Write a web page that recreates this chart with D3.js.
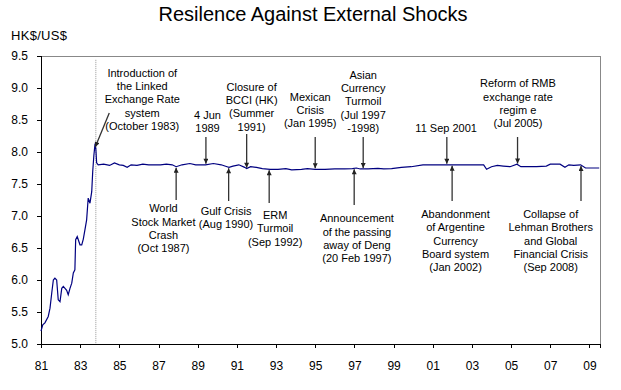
<!DOCTYPE html>
<html lang="en">
<head>
    <meta charset="UTF-8">
    <title>Resilence Against External Shocks</title>
    <script src="https://cdnjs.cloudflare.com/ajax/libs/d3/7.8.5/d3.min.js"></script>
    <style>
        body { margin: 0; background: #fff; }
        svg { font-family: Arial, "Liberation Sans", sans-serif; }
        .axis text { font-size: 12px; fill: #000; }
        .axis path, .axis line { stroke: #000; shape-rendering: crispEdges; }
        .note { font-size: 11px; fill: #000; text-anchor: middle; }
    </style>
</head>
<body>
<svg class="chart"></svg>
<script>
    // HK$ per US$ (decimal year -> rate)
    const years = [
        1981.00, 1981.09, 1981.20, 1981.37, 1981.46, 1981.55, 1981.63, 1981.71, 1981.80, 1981.88,
        1981.97, 1982.06, 1982.14, 1982.31, 1982.39, 1982.48, 1982.57, 1982.65, 1982.73, 1982.77,
        1982.85, 1982.99, 1983.08, 1983.16, 1983.24, 1983.33, 1983.41, 1983.50, 1983.59, 1983.64,
        1983.70, 1983.76, 1983.80, 1983.84, 1983.92,
        1984.2, 1984.5, 1984.75, 1985.0, 1985.2, 1985.4, 1985.6, 1985.9, 1986.2, 1986.5,
        1986.8, 1987.1, 1987.4, 1987.7, 1987.9, 1988.2, 1988.6, 1988.9, 1989.1, 1989.4,
        1989.8, 1990.2, 1990.5, 1990.6, 1990.8, 1991.1, 1991.4, 1991.5, 1991.7, 1992.0,
        1992.3, 1992.7, 1993.1, 1993.5, 1993.8, 1994.3, 1994.6, 1995.0, 1995.5, 1996.0,
        1996.5, 1996.9, 1997.1, 1997.3, 1997.7, 1998.2, 1998.5, 1998.9, 1999.4, 1999.9,
        2000.5, 2001.0, 2001.7, 2002.5, 2003.2, 2003.6, 2003.75, 2004.0, 2004.3, 2004.6,
        2004.95, 2005.3, 2005.5, 2005.8, 2006.3, 2006.8, 2007.0, 2007.5, 2007.75, 2007.95,
        2008.2, 2008.55, 2008.8, 2009.1, 2009.5
    ];
    const rates = [
        5.20, 5.30, 5.33, 5.43, 5.56, 5.80, 6.00, 6.03, 6.00, 5.69,
        5.66, 5.87, 5.90, 5.84, 5.77, 5.87, 5.95, 6.11, 6.16, 6.63,
        6.68, 6.55, 6.55, 6.64, 6.78, 6.94, 7.28, 7.20, 7.38, 7.69,
        7.95, 8.13, 8.05, 7.83, 7.80,
        7.81, 7.79, 7.83, 7.80, 7.79, 7.76, 7.80, 7.79, 7.81, 7.80,
        7.80, 7.80, 7.81, 7.80, 7.77, 7.80, 7.82, 7.80, 7.80, 7.80,
        7.82, 7.80, 7.77, 7.76, 7.78, 7.80, 7.76, 7.74, 7.77, 7.76,
        7.74, 7.73, 7.73, 7.74, 7.72, 7.73, 7.74, 7.73, 7.73, 7.735,
        7.735, 7.74, 7.75, 7.735, 7.735, 7.745, 7.735, 7.74, 7.76, 7.77,
        7.80, 7.80, 7.80, 7.80, 7.80, 7.80, 7.73, 7.77, 7.79, 7.78,
        7.77, 7.81, 7.77, 7.77, 7.77, 7.78, 7.81, 7.81, 7.76, 7.80,
        7.79, 7.80, 7.75, 7.75, 7.75
    ];

    const xTicks = [1981, 1983, 1985, 1987, 1989, 1991, 1993, 1995, 1997, 1999, 2001, 2003, 2005, 2007, 2009];
    const yTicks = [5.0, 5.5, 6.0, 6.5, 7.0, 7.5, 8.0, 8.5, 9.0, 9.5];

    // events: text lines, date on the line, above (down arrow) or below (up arrow)
    const eventLabels = [
        ["Introduction of", "the Linked", "Exchange Rate", "system", "(October 1983)"],
        ["4 Jun", "1989"],
        ["Closure of", "BCCI (HK)", "(Summer", "1991)"],
        ["Mexican", "Crisis", "(Jan 1995)"],
        ["Asian", "Currency", "Turmoil", "(Jul 1997", "-1998)"],
        ["11 Sep 2001"],
        ["Reform of RMB", "exchange rate", "regim e", "(Jul 2005)"],
        ["World", "Stock Market", "Crash", "(Oct 1987)"],
        ["Gulf Crisis", "(Aug 1990)"],
        ["ERM", "Turmoil", "(Sep 1992)"],
        ["Announcement", "of the passing", "away of Deng", "(20 Feb 1997)"],
        ["Abandonment", "of Argentine", "Currency", "Board system", "(Jan 2002)"],
        ["Collapse of", "Lehman Brothers", "and Global", "Financial Crisis", "(Sep 2008)"]
    ];
    const eventDates = [1983.77, 1989.42, 1991.5, 1995.0, 1997.45, 2001.72, 2005.33,
                        1987.9, 1990.58, 1992.65, 1996.99, 2001.99, 2008.57];
    const eventSide = ["up", "up", "up", "up", "up", "up", "up",
                       "down", "down", "down", "down", "down", "down"];

    // label placement: text centre offset from arrow, baseline of first line, arrow tail y
    const labelLayout = [
        {dx: 47, y0: 76.7, tail: null},
        {dx: 1.6, y0: 119, tail: 137},
        {dx: 5, y0: 90.7, tail: 134},
        {dx: -5, y0: 100.7, tail: 137},
        {dx: 0, y0: 78.7, tail: 137},
        {dx: -0.7, y0: 132.3, tail: 137},
        {dx: 0.4, y0: 87.3, tail: 137},
        {dx: -12.7, y0: 212.3, tail: 200},
        {dx: -2.6, y0: 215, tail: 201},
        {dx: 6, y0: 219, tail: 203},
        {dx: 2.7, y0: 222.3, tail: 205},
        {dx: 3.4, y0: 218, tail: 201},
        {dx: -30.3, y0: 218, tail: 201}
    ];
    const lineGap = 13.3;

    const W = 621, H = 390;
    const margin = {top: 56, right: 21, bottom: 46, left: 41};

    const x = d3.scaleLinear().domain([1981, 2009.54]).range([margin.left, W - margin.right]);
    const y = d3.scaleLinear().domain([5, 9.5]).range([H - margin.bottom, margin.top]);

    const svg = d3.select('.chart').attr('width', W).attr('height', H);

    svg.append('rect').attr('width', W).attr('height', H).attr('fill', '#fff');

    svg.append('defs').append('marker')
        .attr('id', 'head')
        .attr('viewBox', '0 0 10 10')
        .attr('refX', 10).attr('refY', 5)
        .attr('markerUnits', 'userSpaceOnUse')
        .attr('markerWidth', 6).attr('markerHeight', 5)
        .attr('orient', 'auto')
        .append('path').attr('d', 'M0,0 L10,5 L0,10 z').attr('fill', '#222');

    svg.append('text')
        .attr('x', 313).attr('y', 21)
        .attr('text-anchor', 'middle')
        .style('font-size', '20px')
        .text('Resilence Against External Shocks');

    svg.append('text')
        .attr('x', 11).attr('y', 40)
        .style('font-size', '13px')
        .style('letter-spacing', '0.3px')
        .text('HK$/US$');

    // plot frame (top and right in grey)
    svg.append('path')
        .attr('d', `M${x.range()[0]},${y(9.5)}H${x.range()[1]}V${y(5)}`)
        .attr('fill', 'none').attr('stroke', '#888').attr('shape-rendering', 'crispEdges');

    // dotted marker at the introduction of the link
    svg.append('line')
        .attr('x1', x(1983.8)).attr('x2', x(1983.8))
        .attr('y1', y(9.44)).attr('y2', y(5))
        .attr('stroke', '#999').attr('stroke-dasharray', '1,1');

    svg.append('g')
        .attr('class', 'axis')
        .attr('transform', `translate(0, ${y(5)})`)
        .call(d3.axisBottom(x).tickValues(xTicks).tickSizeOuter(0).tickSize(4).tickPadding(13)
            .tickFormat(d => String(d % 100).padStart(2, '0')));

    svg.append('g')
        .attr('class', 'axis')
        .attr('transform', `translate(${x(1981)}, 0)`)
        .call(d3.axisLeft(y).tickValues(yTicks).tickSizeOuter(0).tickSize(4).tickPadding(9)
            .tickFormat(d3.format('.1f')));

    const data = years.map((t, i) => ({t: t, v: rates[i]}));

    svg.append('path')
        .datum(data)
        .attr('fill', 'none')
        .attr('stroke', '#000080')
        .attr('stroke-width', 1.2)
        .attr('d', d3.line().x(d => x(d.t)).y(d => y(d.v)));

    const bis = d3.bisector(d => d.t).left;
    function rateAt(t) {
        const i = Math.max(1, Math.min(data.length - 1, bis(data, t)));
        const a = data[i - 1], b = data[i];
        return a.v + (b.v - a.v) * (t - a.t) / (b.t - a.t);
    }

    eventLabels.forEach((lines, i) => {
        const L = labelLayout[i];
        const ax = x(eventDates[i]);
        const tipY = y(rateAt(eventDates[i]));
        const g = svg.append('g');

        const txt = g.append('text').attr('class', 'note');
        lines.forEach((s, k) => {
            txt.append('tspan').attr('x', ax + L.dx).attr('y', L.y0 + k * lineGap).text(s);
        });

        let x1 = ax, y1 = L.tail, y2;
        if (i === 0) {
            x1 = ax + 14; y1 = 113; y2 = tipY + 2;
        } else if (eventSide[i] === 'up') {
            y2 = tipY - 1;
        } else {
            y2 = tipY + 1;
        }
        g.append('line')
            .attr('x1', x1).attr('y1', y1)
            .attr('x2', ax).attr('y2', y2)
            .attr('stroke', '#333').attr('stroke-width', 1.3)
            .attr('marker-end', 'url(#head)');
    });
</script>
</body>
</html>
